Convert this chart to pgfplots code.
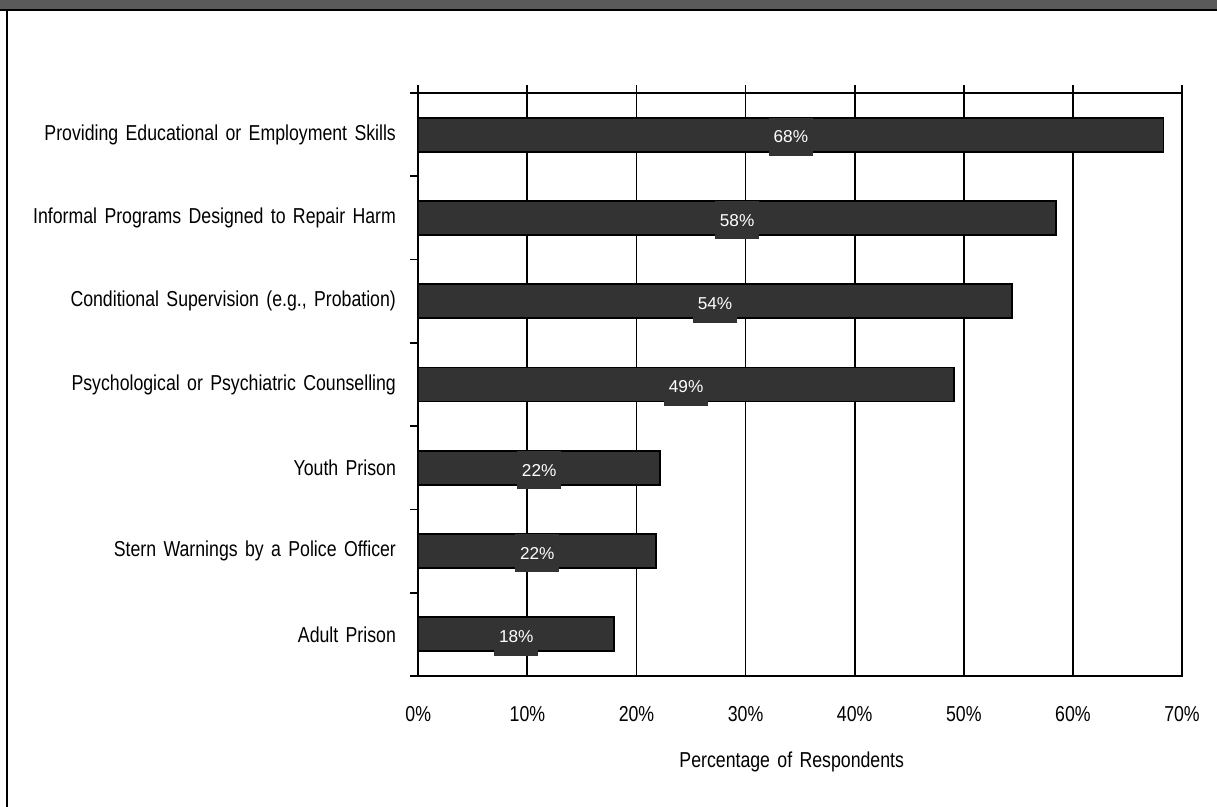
\documentclass[border=0pt]{standalone}
\usepackage{fontspec}
\setmainfont[FakeStretch=0.82, WordSpace=1.5]{Liberation Sans}
\newfontfamily\lblfont{Liberation Sans}
\usepackage{pgfplots}
\pgfplotsset{compat=1.18}
\usepackage{pgfplotstable}
\definecolor{barc}{HTML}{333333}
\definecolor{band}{HTML}{5A5A5A}

\pgfplotstableread{
y v
0 17.97
1 21.8
2 22.16
3 49.1
4 54.4
5 58.45
6 68.3
}\data

\begin{document}
\begin{tikzpicture}[x=1pt,y=1pt]
\useasboundingbox (0,0) rectangle (608.5,-403.5);
\fill[band] (0,0) rectangle (608.5,-4.5);
\draw[black, line width=1pt] (0,-4.9) -- (608.5,-4.9);
\draw[black, line width=1pt] (3.6,-4.9) -- (3.6,-403.5);
\begin{axis}[
  at={(209.15pt,-338pt)}, anchor=south west,
  scale only axis, width=381.85pt, height=291.5pt,
  xmin=0, xmax=70, ymin=-0.5, ymax=6.5,
  enlargelimits=false,
  /pgf/number format/assume math mode=true,
  font=\fontsize{10.8pt}{12pt}\selectfont,
  axis line style={black, line width=0.9pt},
  xtick={0,10,20,30,40,50,60,70},
  xticklabels={0\%,10\%,20\%,30\%,40\%,50\%,60\%,70\%},
  xtick pos=right, xticklabel pos=left,
  xtick align=outside,
  xticklabel style={anchor=center, yshift=-15pt},
  xmajorgrids, major grid style={black, line width=0.9pt},
  ytick={-0.5,0.5,1.5,2.5,3.5,4.5,5.5,6.5},
  yticklabels={},
  ytick pos=left, ytick align=outside,
  major tick length=4pt,
  every tick/.style={black, line width=0.9pt},
  extra y ticks={0,1,2,3,4,5,6},
  extra y tick labels={Adult Prison, Stern Warnings by a Police Officer, Youth Prison, Psychological or Psychiatric Counselling, {Conditional Supervision (e.g., Probation)}, Informal Programs Designed to Repair Harm, Providing Educational or Employment Skills},
  extra y tick style={major tick length=0pt, yticklabel style={anchor=east, inner sep=0pt, xshift=-11pt}},
  xlabel={Percentage of Respondents},
  every axis x label/.style={at={(axis description cs:0.489,0)}, anchor=center, yshift=-43pt},
]
\addplot[xbar, bar width=17pt, fill=barc, draw=black, line width=0.9pt] table[x=v, y=y] {\data};
\addplot[only marks, mark=*, mark size=0.01pt, mark options={draw=none, fill=none},
  point meta=explicit,
  nodes near coords={\pgfmathprintnumber[fixed,precision=0]{\pgfplotspointmeta}\%},
  nodes near coords style={anchor=center, fill=barc, text=white, font=\lblfont\fontsize{8.6pt}{10pt}\selectfont, inner sep=0pt, minimum width=22pt, minimum height=19pt, yshift=-1.2pt}]
  table[x expr=\thisrow{v}/2, y=y, meta=v] {\data};
\end{axis}
\end{tikzpicture}
\end{document}
